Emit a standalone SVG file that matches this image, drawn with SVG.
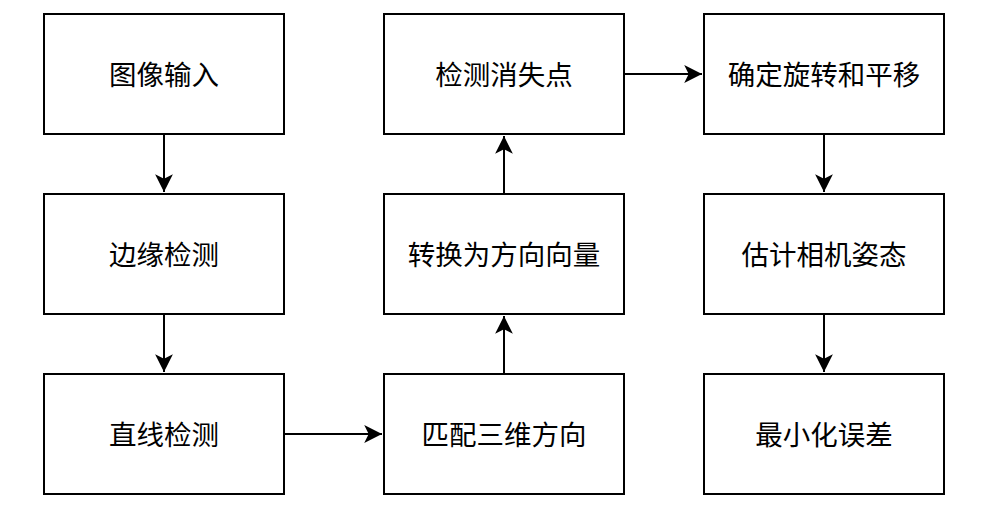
<svg xmlns="http://www.w3.org/2000/svg" width="984" height="510" viewBox="0 0 984 510">
<style>
.box{fill:#fff;stroke:#000;stroke-width:2}
.lbl{font-family:"Noto Sans CJK SC","Noto Sans",sans-serif;font-size:27.5px;fill:#000;text-anchor:middle;dominant-baseline:central}
.edge{fill:none;stroke:#000;stroke-width:2}
</style>
<defs>
<marker id="arr" markerUnits="userSpaceOnUse" markerWidth="20" markerHeight="20" viewBox="-17 -9 18 18" refX="0" refY="0" orient="auto">
<path d="M0,0 L-16,-8 L-12,0 L-16,8 Z" fill="#000"/>
</marker>
</defs>
<rect width="984" height="510" fill="#fff"/>
<g id="connectors">
<path class="edge" d="M164,134 V192" marker-end="url(#arr)"/>
<path class="edge" d="M164,314 V372" marker-end="url(#arr)"/>
<path class="edge" d="M284,434 H382" marker-end="url(#arr)"/>
<path class="edge" d="M504,374 V316" marker-end="url(#arr)"/>
<path class="edge" d="M504,194 V136" marker-end="url(#arr)"/>
<path class="edge" d="M624,74 H702" marker-end="url(#arr)"/>
<path class="edge" d="M824,134 V192" marker-end="url(#arr)"/>
<path class="edge" d="M824,314 V372" marker-end="url(#arr)"/>
</g>
<g id="n1"><rect class="box" x="44" y="14" width="240" height="120"/><text class="lbl" x="164" y="73">图像输入</text></g>
<g id="n2"><rect class="box" x="44" y="194" width="240" height="120"/><text class="lbl" x="164" y="253">边缘检测</text></g>
<g id="n3"><rect class="box" x="44" y="374" width="240" height="120"/><text class="lbl" x="164" y="433">直线检测</text></g>
<g id="n4"><rect class="box" x="384" y="374" width="240" height="120"/><text class="lbl" x="504" y="433">匹配三维方向</text></g>
<g id="n5"><rect class="box" x="384" y="194" width="240" height="120"/><text class="lbl" x="504" y="253">转换为方向向量</text></g>
<g id="n6"><rect class="box" x="384" y="14" width="240" height="120"/><text class="lbl" x="504" y="73">检测消失点</text></g>
<g id="n7"><rect class="box" x="704" y="14" width="240" height="120"/><text class="lbl" x="824" y="73">确定旋转和平移</text></g>
<g id="n8"><rect class="box" x="704" y="194" width="240" height="120"/><text class="lbl" x="824" y="253">估计相机姿态</text></g>
<g id="n9"><rect class="box" x="704" y="374" width="240" height="120"/><text class="lbl" x="824" y="433">最小化误差</text></g>
</svg>
